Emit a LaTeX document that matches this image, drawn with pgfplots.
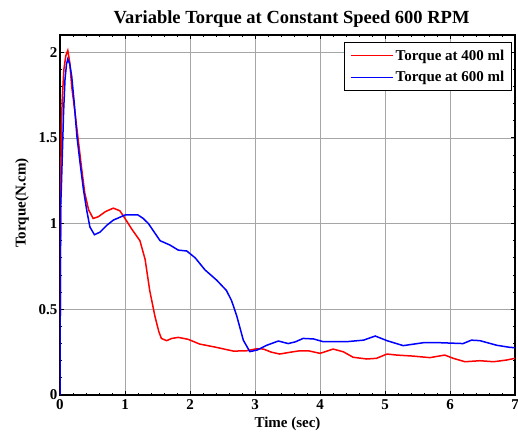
\documentclass[border=0pt]{standalone}
\usepackage{fontspec}
\setmainfont{Liberation Serif}
\usepackage{pgfplots}
\pgfplotsset{compat=1.18}
\pgfplotsset{mylegend/.style={legend image code/.code={\draw[##1, line width=1.8pt] (0pt,0pt) -- (42pt,0pt);}}}
\begin{document}
\begin{tikzpicture}[x=1pt,y=1pt]
\begin{axis}[
  at={(0,0)}, anchor=south west,
  scale only axis, width=455pt, height=360pt,
  xmin=0, xmax=7, ymin=0, ymax=2.1,
  xtick={0,1,...,7}, ytick={0,0.5,1,1.5,2},
  minor x tick num=4, minor y tick num=4,
  tick align=inside, tick pos=both,
  major tick length=4pt, minor tick length=2.5pt,
  every tick/.style={black, line width=0.8pt},
  grid=major, major grid style={gray!70, line width=0.5pt},
  axis line style={black, line width=1.6pt},
  /pgf/number format/assume math mode=true,
  ticklabel style={font=\fontsize{15}{17}\selectfont\bfseries},
  xticklabel style={yshift=-1pt},
  yticklabel style={xshift=1pt},
  title={Variable Torque at Constant Speed 600 RPM},
  title style={font=\fontsize{18.5}{21}\selectfont\bfseries, yshift=-2pt, xshift=4pt},
  xlabel={Time (sec)}, ylabel={Torque(N.cm)},
  label style={font=\fontsize{15}{17}\selectfont\bfseries},
  xlabel style={yshift=-1pt},
  ylabel style={yshift=3pt, xshift=12pt},
  legend style={at={(1,1)}, anchor=north east, xshift=-3pt, yshift=-7pt,
    draw=black, line width=1.2pt,
    font=\fontsize{15}{17}\selectfont\bfseries, inner xsep=5pt, inner ysep=5pt,
    row sep=6pt},
  legend cell align=left,
  mylegend,
]
\addplot[red, line width=1.5pt] coordinates {
(0,0) (0.01,1.2) (0.02,1.55) (0.035,1.73) (0.06,1.90) (0.09,1.98) (0.12,2.01) (0.15,1.94) (0.18,1.80)
(0.23,1.65) (0.28,1.49) (0.33,1.33) (0.38,1.18) (0.44,1.08) (0.51,1.03) (0.59,1.04)
(0.7,1.07) (0.82,1.09) (0.92,1.075) (1.0,1.03) (1.10,0.97) (1.23,0.90) (1.31,0.79) (1.38,0.61)
(1.46,0.46) (1.52,0.37) (1.56,0.33) (1.64,0.317) (1.72,0.33) (1.82,0.336) (1.97,0.325)
(2.15,0.297) (2.38,0.28) (2.67,0.256) (2.87,0.258) (3.03,0.27) (3.13,0.268) (3.25,0.25) (3.38,0.239)
(3.55,0.25) (3.69,0.258) (3.82,0.258) (4.0,0.243) (4.1,0.255) (4.2,0.268) (4.36,0.252)
(4.51,0.22) (4.72,0.21) (4.87,0.214) (5.03,0.239) (5.18,0.233) (5.43,0.227) (5.69,0.218)
(5.92,0.233) (6.05,0.214) (6.23,0.194) (6.46,0.2) (6.67,0.194) (6.87,0.204) (7.0,0.214)
};
\addlegendentry{Torque at 400 ml}
\addplot[blue, line width=1.5pt] coordinates {
(0,0) (0.005,0.6) (0.01,1.1) (0.02,1.2) (0.035,1.39) (0.055,1.65) (0.077,1.84) (0.1,1.93) (0.12,1.96)
(0.15,1.93) (0.18,1.86) (0.22,1.70) (0.26,1.51) (0.31,1.35) (0.36,1.20) (0.41,1.08) (0.46,0.98)
(0.53,0.935) (0.615,0.95) (0.72,0.99) (0.82,1.02) (1.0,1.05) (1.2,1.05) (1.28,1.03) (1.36,1.0)
(1.45,0.95) (1.54,0.90) (1.69,0.875) (1.82,0.845) (1.95,0.84) (2.08,0.80) (2.23,0.73)
(2.41,0.67) (2.56,0.61) (2.64,0.55) (2.72,0.46) (2.82,0.32) (2.92,0.253) (3.03,0.262)
(3.18,0.29) (3.36,0.315) (3.51,0.30) (3.62,0.31) (3.74,0.33) (3.90,0.327) (4.05,0.311)
(4.41,0.311) (4.67,0.32) (4.85,0.344) (5.03,0.317) (5.28,0.288) (5.59,0.305) (5.85,0.305)
(6.2,0.30) (6.33,0.32) (6.46,0.317) (6.72,0.29) (6.92,0.278) (7.0,0.276)
};
\addlegendentry{Torque at 600 ml}
\end{axis}
\pgfresetboundingbox
\useasboundingbox (-60,-38) rectangle (458,395);
\end{tikzpicture}
\end{document}
